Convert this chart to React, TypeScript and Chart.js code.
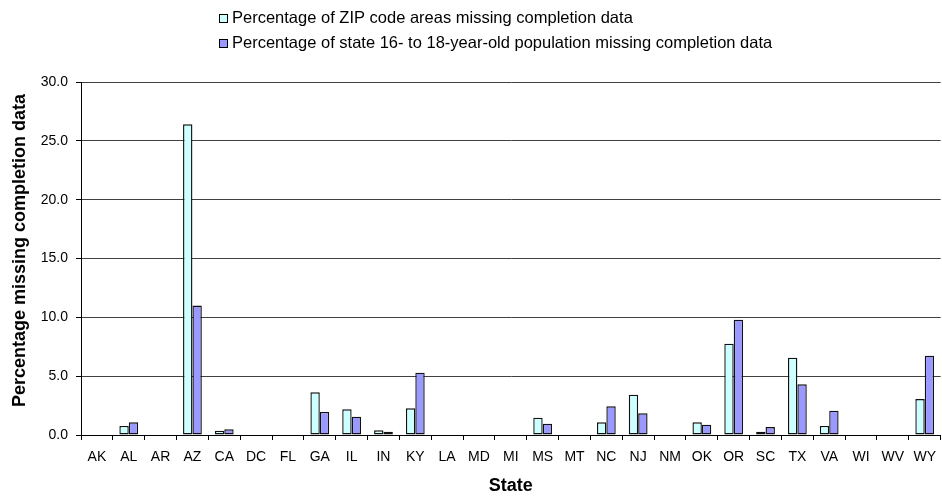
import React, { useEffect, useRef } from "react";
import { Chart, registerables } from "chart.js";

Chart.register(...registerables);

const states = ["AK", "AL", "AR", "AZ", "CA", "DC", "FL", "GA", "IL", "IN", "KY", "LA", "MD", "MI", "MS", "MT", "NC", "NJ", "NM", "OK", "OR", "SC", "TX", "VA", "WI", "WV", "WY"];
const zipMissing = [0, 0.77, 0, 26.4, 0.37, 0, 0, 3.63, 2.18, 0.4, 2.27, 0, 0, 0, 1.47, 0, 1.08, 3.43, 0, 1.08, 7.76, 0.28, 6.57, 0.77, 0, 0, 3.06];
const popMissing = [0, 1.08, 0, 11.0, 0.48, 0, 0, 1.96, 1.56, 0.28, 5.3, 0, 0, 0, 0.96, 0, 2.44, 1.84, 0, 0.88, 9.8, 0.68, 4.31, 2.07, 0, 0, 6.74];
const seriesLabels = [
  "Percentage of ZIP code areas missing completion data",
  "Percentage of state 16- to 18-year-old population missing completion data",
];
const seriesColors = ["#CCFFFF", "#9999FF"];
const yMin = 0;
const yMax = 30;
const yStep = 5;
const yTitle = "Percentage missing completion data";
const xTitle = "State";

const FONT = '"Liberation Sans", Arial, sans-serif';

const stackedLegend = {
  id: "stackedLegend",
  afterDraw(chart: any) {
    const ctx = chart.ctx;
    ctx.save();
    ctx.font = `16.5px ${FONT}`;
    ctx.textBaseline = "middle";
    ctx.textAlign = "left";
    chart.data.datasets.forEach((ds: any, i: number) => {
      const y = 18 + i * 25;
      ctx.fillStyle = ds.backgroundColor;
      ctx.fillRect(219, y - 4, 9, 9);
      ctx.strokeStyle = "#000";
      ctx.lineWidth = 1;
      ctx.strokeRect(219.5, y - 3.5, 8, 8);
      ctx.fillStyle = "#000";
      ctx.fillText(ds.label, 232, y);
    });
    // rotated y-axis title
    const ca = chart.chartArea;
    ctx.font = `bold 18px ${FONT}`;
    ctx.textAlign = "center";
    ctx.textBaseline = "middle";
    ctx.translate(20, (ca.top + ca.bottom) / 2 - 8);
    ctx.rotate(-Math.PI / 2);
    ctx.fillText(yTitle, 0, 0);
    ctx.restore();
  },
};

export default function App() {
  const ref = useRef<HTMLCanvasElement | null>(null);
  useEffect(() => {
    if (!ref.current) return;
    const barStyle = {
      borderColor: "#111",
      borderWidth: 1.4,
      borderSkipped: false as const,
      inflateAmount: 0,
      categoryPercentage: 0.59,
      barPercentage: 1,
    };
    const chart = new Chart(ref.current, {
      type: "bar",
      data: {
        labels: states,
        datasets: [
          { label: seriesLabels[0], data: zipMissing, backgroundColor: seriesColors[0], ...barStyle },
          { label: seriesLabels[1], data: popMissing, backgroundColor: seriesColors[1], ...barStyle },
        ],
      },
      options: {
        responsive: false,
        animation: false,
        devicePixelRatio: 1,
        layout: { padding: { top: 82, left: 0, right: 0, bottom: 0 } },
        plugins: {
          legend: { display: false },
          tooltip: { enabled: false },
        },
        scales: {
          x: {
            offset: true,
            grid: {
              display: true,
              offset: true,
              drawOnChartArea: false,
              drawTicks: true,
              tickLength: 5,
              color: "#000",
            },
            border: { color: "#000", width: 1 },
            ticks: {
              color: "#000",
              font: { family: FONT, size: 14 },
              padding: 9,
              maxRotation: 0,
              autoSkip: false,
            },
            title: {
              display: true,
              text: xTitle,
              color: "#000",
              font: { family: FONT, size: 18, weight: "bold" },
              padding: { top: 0, bottom: 0 },
            },
            afterFit: (s: any) => {
              s.height = 62;
            },
          },
          y: {
            min: yMin,
            max: yMax,
            grid: {
              color: "#404040",
              tickColor: "#000",
              tickLength: 5,
              drawTicks: true,
            },
            border: { color: "#000", width: 1 },
            ticks: {
              stepSize: yStep,
              color: "#000",
              font: { family: FONT, size: 14 },
              padding: 8,
              callback: (v: any) => Number(v).toFixed(1),
            },
            title: { display: false },
            afterFit: (s: any) => {
              s.width = 81;
            },
          },
        },
      },
      plugins: [stackedLegend],
    });
    return () => chart.destroy();
  }, []);
  return (
    <div style={{ position: "fixed", left: 0, top: 0, width: 942, height: 497, overflow: "hidden", background: "#fff" }}>
      <canvas ref={ref} width={945} height={497} style={{ display: "block" }} />
    </div>
  );
}
